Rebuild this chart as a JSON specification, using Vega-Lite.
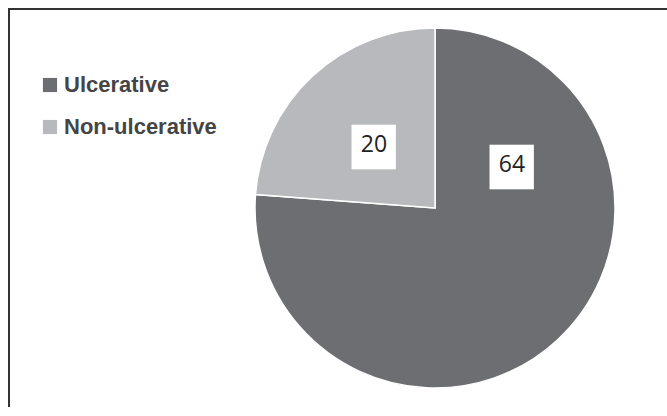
{
  "$schema": "https://vega.github.io/schema/vega-lite/v6.json",
  "width": 852,
  "height": 398,
  "autosize": {"type": "none"},
  "padding": {"left": 9, "top": 9, "right": -194, "bottom": 0},
  "background": "white",
  "view": {"stroke": "#333333", "strokeWidth": 2, "strokeDash": [658, 1444, 420], "fill": null},
  "data": {
    "values": [
      {"type": "Ulcerative", "count": 64},
      {"type": "Non-ulcerative", "count": 20}
    ]
  },
  "resolve": {"scale": {"theta": "independent"}},
  "layer": [
    {
      "mark": {"type": "arc", "radius": 180, "stroke": "white", "strokeWidth": 1.5},
      "encoding": {
        "theta": {"field": "count", "type": "quantitative", "stack": true},
        "order": {"field": "count", "sort": "descending"},
        "color": {
          "field": "type",
          "type": "nominal",
          "scale": {"domain": ["Ulcerative", "Non-ulcerative"], "range": ["#6d6e72", "#b8b9bd"]},
          "legend": {
            "title": null,
            "orient": "none",
            "legendX": 30,
            "legendY": 65,
            "padding": 0,
            "symbolType": "square",
            "symbolSize": 200,
            "symbolStrokeWidth": 0,
            "labelFont": "Liberation Sans",
            "labelFontWeight": "bold",
            "labelFontSize": 22,
            "labelColor": "#454545",
            "labelOffset": 3,
            "rowPadding": 20,
            "labelLimit": 300
          }
        }
      }
    },
    {
      "encoding": {
        "theta": {"field": "count", "type": "quantitative", "stack": true, "scale": {"range": [2.461, -1.204]}},
        "order": {"field": "count", "sort": "descending"},
        "detail": {"field": "type", "type": "nominal"}
      },
      "layer": [
        {
          "mark": {"type": "text", "radius": 88, "text": "■", "font": "DejaVu Sans", "fontSize": 58, "fill": "white", "baseline": "middle", "align": "center"}
        },
        {
          "mark": {"type": "text", "radius": 88, "font": "Open Sans", "fontSize": 23, "color": "#222222", "baseline": "middle", "align": "center"},
          "encoding": {"text": {"field": "count", "type": "quantitative"}}
        }
      ]
    }
  ]
}
